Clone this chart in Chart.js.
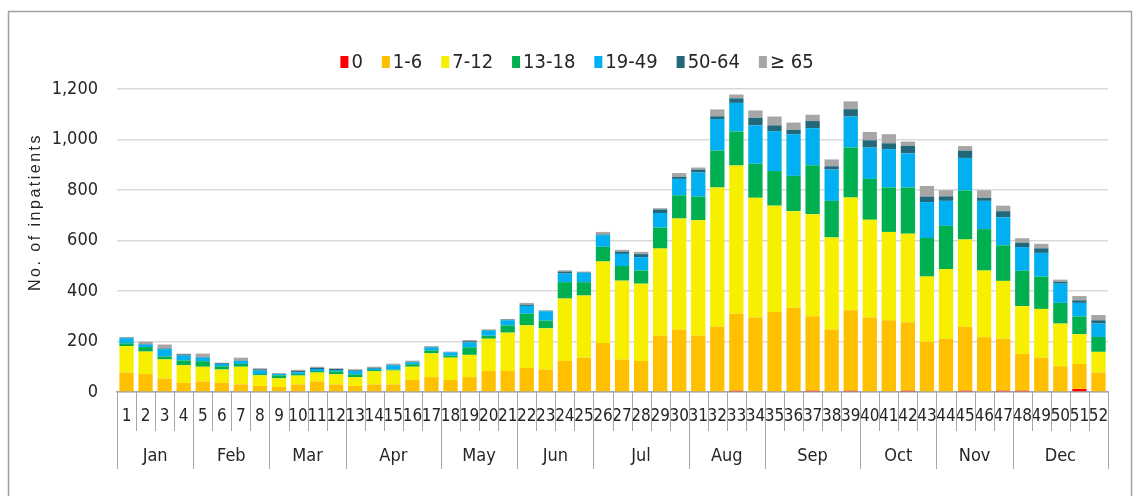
<!DOCTYPE html>
<html lang="en">
<head>
<meta charset="UTF-8">
<title>Inpatients by age group per week</title>
<script src="https://cdn.jsdelivr.net/npm/chart.js"></script>
<style>
  html, body { margin: 0; padding: 0; background: #fff; }
  .wrap { position: relative; width: 1140px; height: 496px; }
</style>
</head>
<body>
<div class="wrap"><canvas id="chart" width="1140" height="496"></canvas></div>
<script>
// week numbers and months
const weeks = Array.from({ length: 52 }, (_, i) => String(i + 1));
const months = ['Jan', 'Feb', 'Mar', 'Apr', 'May', 'Jun', 'Jul', 'Aug', 'Sep', 'Oct', 'Nov', 'Dec'];
const weeksPerMonth = [4, 4, 4, 5, 4, 4, 5, 4, 5, 4, 4, 5];
const yTicks = [0, 200, 400, 600, 800, 1000, 1200];

// age groups
const groups = ['0', '1-6', '7-12', '13-18', '19-49', '50-64', '\u2265 65'];
const colors = ['#ff0000', '#ffc000', '#f7ef00', '#00b050', '#00b0f0', '#23677a', '#a6a6a6'];

// inpatients per week, one array per age group
const age0 = [0,0,0,0,0,0,0,0,0,0,0,0,0,0,0,0,0,0,0,0,0,0,0,0,0,0,0,0,0,0,0,0,5,0,0,0,5,0,5,0,0,5,0,0,5,0,5,5,0,0,12,0];
const age1_6 = [77,71,53,36,42,36,30,24,20,30,42,30,24,30,30,48,59,48,59,83,83,95,89,123,136,194,129,123,223,247,223,258,305,295,317,334,295,247,319,295,284,271,199,211,253,217,206,146,136,102,99,77];
const age7_12 = [105,89,76,70,58,53,70,42,34,35,35,40,35,52,55,52,94,88,88,128,152,169,163,247,246,323,312,306,345,440,457,552,587,474,421,382,404,365,446,387,350,351,258,276,346,264,229,189,193,169,118,82];
const age13_18 = [11,18,12,19,22,13,11,5,12,6,6,12,11,5,4,10,12,8,30,12,29,46,31,65,53,58,58,52,83,92,94,146,135,135,137,140,194,145,198,162,176,183,153,171,194,164,141,140,128,82,70,59];
const age19_49 = [20,10,29,19,14,9,12,14,5,7,8,5,13,5,17,8,12,13,19,20,20,31,37,34,37,46,48,53,58,65,95,125,113,152,158,165,147,124,123,124,152,135,142,99,129,112,111,94,94,76,54,53];
const age50_64 = [2,3,2,5,2,3,1,5,1,5,5,4,3,4,2,2,1,1,5,2,3,5,1,8,2,3,9,12,14,8,12,11,18,30,23,17,28,13,29,29,23,30,22,18,29,12,24,17,18,8,10,13];
const age65 = [3,8,16,3,14,2,12,4,3,5,4,3,4,4,4,4,4,2,5,3,2,7,3,5,3,10,7,9,5,15,8,27,15,29,35,29,25,27,31,33,36,17,42,24,18,30,22,18,18,8,17,21];

const series = [age0, age1_6, age7_12, age13_18, age19_49, age50_64, age65];

const NARROW = "'Liberation Sans Narrow', 'Arial Narrow', 'DejaVu Sans Condensed', sans-serif";
const TEXT = '#262626';
const LINE = '#a6a6a6';

// frame, two-level x axis, y title and legend
const extras = {
  id: 'extras',
  beforeDraw(chart) {
    const ctx = chart.ctx;
    ctx.save();
    ctx.strokeStyle = '#a0a0a0';
    ctx.lineWidth = 1.5;
    ctx.strokeRect(8.5, 11.5, 1123, 520);
    ctx.restore();
  },
  afterDraw(chart) {
    const ctx = chart.ctx;
    const x = chart.scales.x;
    const area = chart.chartArea;
    const step = (x.right - x.left) / weeks.length;
    const base = area.bottom;

    ctx.save();
    ctx.strokeStyle = LINE;
    ctx.lineWidth = 1;
    // month boundaries (long lines)
    const monthEdges = [0];
    weeksPerMonth.forEach(n => monthEdges.push(monthEdges[monthEdges.length - 1] + n));
    for (let i = 0; i <= weeks.length; i++) {
      const px = Math.round(x.left + i * step) + 0.5;
      const long = monthEdges.includes(i);
      ctx.beginPath();
      ctx.moveTo(px, base);
      ctx.lineTo(px, long ? base + 77 : base + 39);
      ctx.stroke();
    }
    // month labels
    ctx.fillStyle = TEXT;
    ctx.font = '18px ' + NARROW;
    ctx.textAlign = 'center';
    ctx.textBaseline = 'middle';
    months.forEach((m, i) => {
      const cx = x.left + (monthEdges[i] + monthEdges[i + 1]) / 2 * step;
      ctx.fillText(m, cx, base + 64);
    });

    // y axis title
    ctx.save();
    ctx.translate(36, 212);
    ctx.rotate(-Math.PI / 2);
    ctx.font = '16px "Liberation Sans", Arial, sans-serif';
    ctx.letterSpacing = '2.5px';
    ctx.fillText('No. of inpatients', 0, 0);
    ctx.restore();

    // legend
    ctx.font = '20px ' + NARROW;
    ctx.textAlign = 'left';
    const boxW = 8, boxH = 12, gapText = 3, gapItem = 19;
    const items = chart.data.datasets.map(d => ({ label: d.label, color: d.backgroundColor, w: ctx.measureText(d.label).width }));
    const total = items.reduce((s, it) => s + boxW + gapText + it.w, 0) + gapItem * (items.length - 1);
    let lx = 577 - total / 2;
    const ly = 62;
    items.forEach(it => {
      ctx.fillStyle = it.color;
      ctx.fillRect(lx, ly - boxH / 2, boxW, boxH);
      ctx.fillStyle = TEXT;
      ctx.fillText(it.label, lx + boxW + gapText, ly + 1);
      lx += boxW + gapText + it.w + gapItem;
    });
    ctx.restore();
  }
};

new Chart(document.getElementById('chart'), {
  type: 'bar',
  data: {
    labels: weeks,
    datasets: groups.map((g, i) => ({
      label: g,
      data: series[i],
      backgroundColor: colors[i],
      borderWidth: 0,
      categoryPercentage: 1,
      barPercentage: 0.75
    }))
  },
  options: {
    responsive: false,
    animation: false,
    layout: { padding: { top: 89, right: 32, left: 0, bottom: 0 } },
    plugins: { legend: { display: false }, tooltip: { enabled: false } },
    scales: {
      x: {
        stacked: true,
        grid: { display: false, drawTicks: false },
        border: { display: true, color: LINE, width: 1.5 },
        ticks: {
          autoSkip: false, maxRotation: 0, padding: 14,
          color: TEXT, font: { family: NARROW, size: 17 }
        },
        afterFit(scale) { scale.height = 104; }
      },
      y: {
        stacked: true,
        min: 0, max: 1200,
        afterBuildTicks(scale) { scale.ticks = yTicks.map(v => ({ value: v })); },
        grid: { color: '#d9d9d9', lineWidth: 1.5, drawTicks: false },
        border: { display: false },
        ticks: {
          padding: 19, color: TEXT,
          font: { family: NARROW, size: 18 },
          callback: v => v.toLocaleString('en-US')
        },
        afterFit(scale) { scale.width = 117; }
      }
    }
  },
  plugins: [extras]
});
</script>
</body>
</html>
